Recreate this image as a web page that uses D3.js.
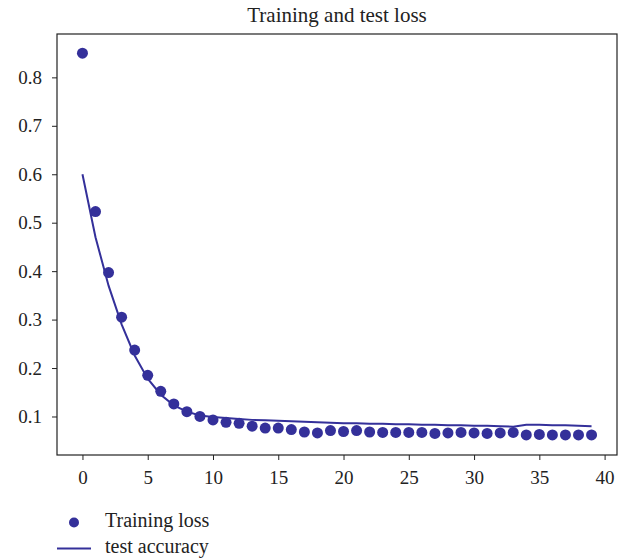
<!doctype html>
<html lang="en">
<head>
	<meta charset="UTF-8">
	<title>Training and test loss</title>
	<script src="https://cdn.jsdelivr.net/npm/d3@7"></script>
	<style>
		body { margin: 0; background: #fff; }
		text { font-family: "Liberation Serif", "DejaVu Serif", serif; fill: #222; }
	</style>
</head>
<body>
	<script type="text/javascript">
		var w = 632, h = 560;
		var margin = {top: 34, right: 15, bottom: 105, left: 57};

		// epochs 0..39
		var epochs = d3.range(0, 40);
		var trainLoss = [0.850, 0.523, 0.397, 0.305, 0.237, 0.185, 0.152, 0.126, 0.110, 0.100,
		                 0.093, 0.088, 0.086, 0.080, 0.076, 0.076, 0.073, 0.068, 0.066, 0.071,
		                 0.069, 0.071, 0.068, 0.067, 0.067, 0.067, 0.067, 0.065, 0.066, 0.067,
		                 0.066, 0.065, 0.066, 0.067, 0.062, 0.063, 0.062, 0.062, 0.062, 0.062];
		var testAcc = [0.600, 0.470, 0.370, 0.290, 0.226, 0.178, 0.145, 0.123, 0.110, 0.102,
		               0.099, 0.097, 0.095, 0.093, 0.092, 0.091, 0.090, 0.089, 0.088, 0.087,
		               0.086, 0.086, 0.085, 0.085, 0.084, 0.084, 0.083, 0.083, 0.082, 0.082,
		               0.081, 0.081, 0.080, 0.079, 0.083, 0.083, 0.082, 0.082, 0.081, 0.080];
		var xTicks = [0, 5, 10, 15, 20, 25, 30, 35, 40];
		var yTicks = [0.1, 0.2, 0.3, 0.4, 0.5, 0.6, 0.7, 0.8];
		var colour = "#34309a";

		var svg = d3.select("body").append("svg")
			.attr("width", w)
			.attr("height", h);

		var x = d3.scaleLinear().domain([-1.95, 40.95]).range([margin.left, w - margin.right]);
		var y = d3.scaleLinear().domain([0.0205, 0.8895]).range([h - margin.bottom, margin.top]);

		svg.append("text")
			.attr("x", (margin.left + w - margin.right) / 2)
			.attr("y", 22)
			.attr("text-anchor", "middle")
			.style("font-size", "21px")
			.text("Training and test loss");

		var xAxis = svg.append("g")
			.attr("transform", "translate(0," + (h - margin.bottom) + ")")
			.call(d3.axisBottom(x).tickValues(xTicks).tickSize(5).tickPadding(11));
		var yAxis = svg.append("g")
			.attr("transform", "translate(" + margin.left + ",0)")
			.call(d3.axisLeft(y).tickValues(yTicks).tickFormat(d3.format(".1f")).tickSize(5).tickPadding(10));

		[xAxis, yAxis].forEach(function(g) {
			g.select(".domain").remove();
			g.selectAll("line").attr("stroke", "#222");
			g.selectAll("text").style("font-size", "19px").attr("fill", "#222");
		});

		// frame
		svg.append("rect")
			.attr("x", margin.left)
			.attr("y", margin.top)
			.attr("width", w - margin.right - margin.left)
			.attr("height", h - margin.bottom - margin.top)
			.attr("fill", "none")
			.attr("stroke", "#222")
			.attr("stroke-width", 1.2);

		var line = d3.line()
			.x(function(d, i) { return x(epochs[i]); })
			.y(function(d) { return y(d); });

		svg.append("path")
			.datum(testAcc)
			.attr("d", line)
			.attr("fill", "none")
			.attr("stroke", colour)
			.attr("stroke-width", 2);

		svg.selectAll("circle.pt")
			.data(trainLoss)
			.enter()
			.append("circle")
			.attr("class", "pt")
			.attr("cx", function(d, i) { return x(epochs[i]); })
			.attr("cy", function(d) { return y(d); })
			.attr("r", 5.5)
			.attr("fill", colour);

		// legend
		var leg = svg.append("g");
		leg.append("circle")
			.attr("cx", 74).attr("cy", 522.5).attr("r", 5)
			.attr("fill", colour);
		leg.append("text")
			.attr("x", 105).attr("y", 527)
			.style("font-size", "20px")
			.text("Training loss");
		leg.append("line")
			.attr("x1", 57).attr("x2", 91).attr("y1", 548.5).attr("y2", 548.5)
			.attr("stroke", colour).attr("stroke-width", 2);
		leg.append("text")
			.attr("x", 105).attr("y", 553)
			.style("font-size", "20px")
			.text("test accuracy");
	</script>
</body>
</html>
